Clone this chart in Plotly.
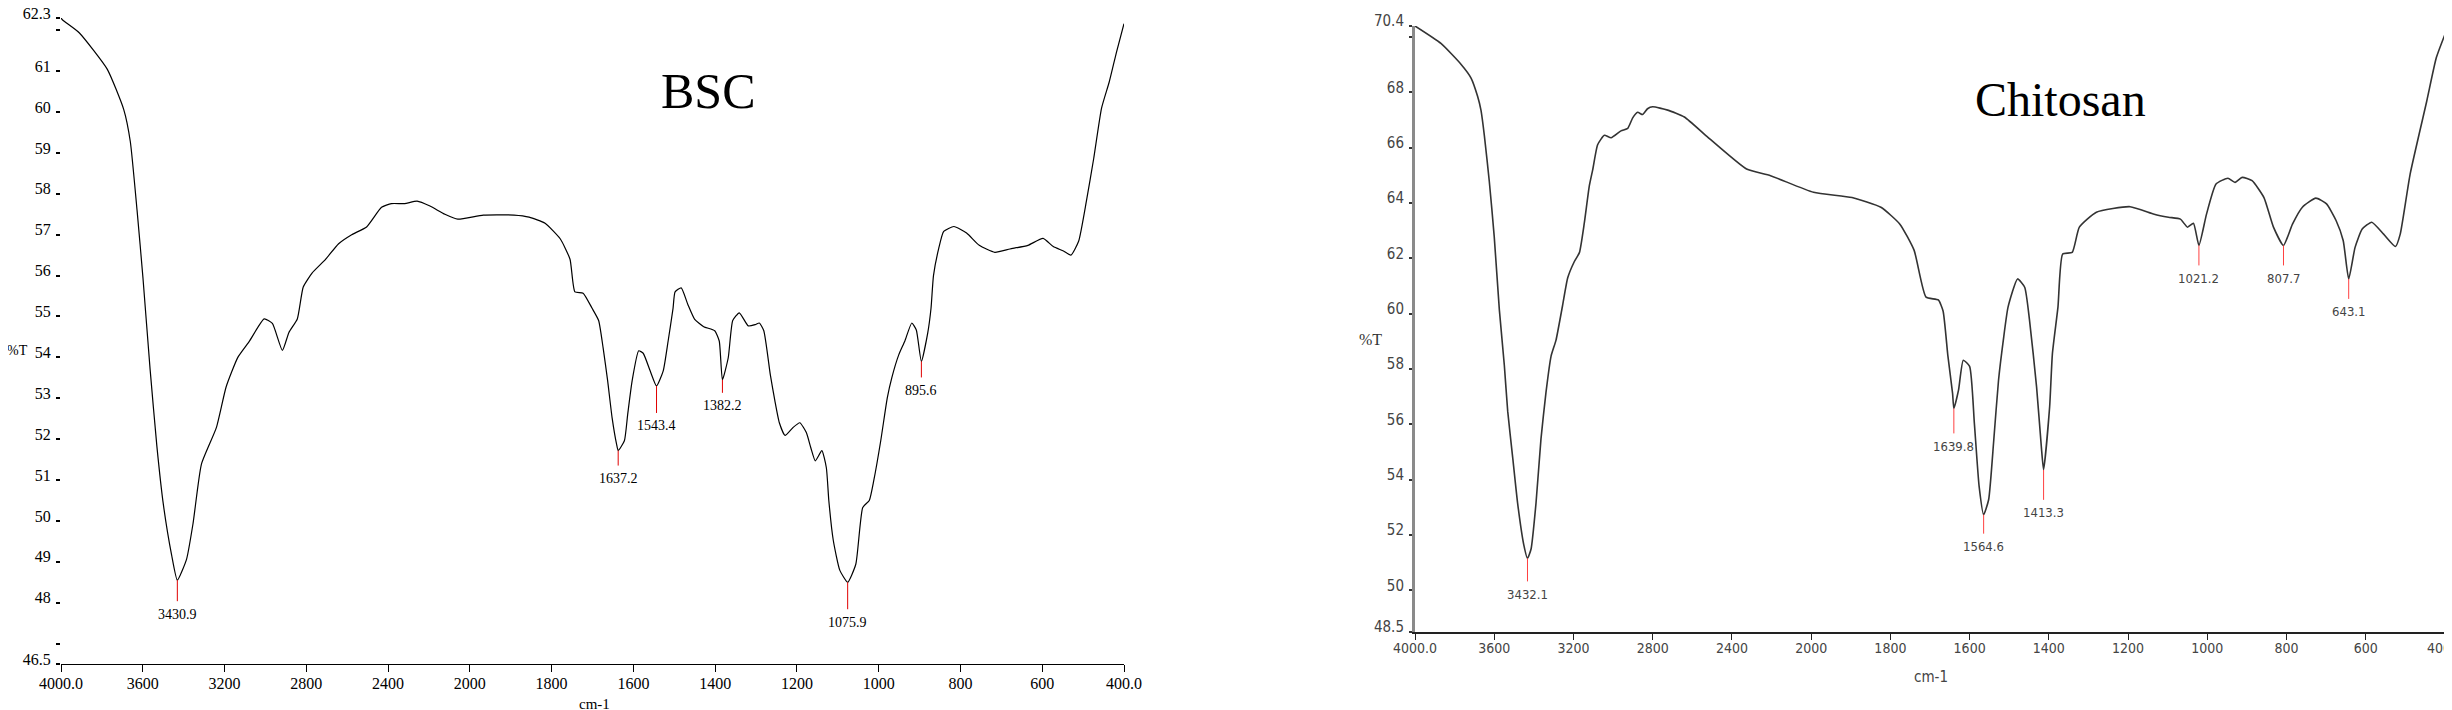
import numpy as np
import plotly.graph_objects as go

# ---------------- data ----------------
bsc_wn = [4000, 3992, 3911, 3774, 3693, 3661, 3628, 3599, 3564, 3531, 3499, 3459, 3430.9, 3386, 3354,
          3313, 3240, 3192, 3135, 3079, 3006, 2966, 2917, 2885, 2844, 2815, 2772, 2707, 2642, 2578,
          2505, 2432, 2384, 2319, 2258, 2195, 2122, 2059, 1967, 1892, 1855, 1816, 1779, 1755, 1743,
          1723, 1701, 1685, 1674, 1663, 1652, 1641, 1637.2, 1622, 1614, 1603, 1587, 1576, 1559, 1543.4,
          1527, 1515, 1503, 1498, 1483, 1467, 1450, 1428, 1401, 1390, 1382.2, 1368, 1357, 1341, 1319,
          1302, 1292, 1281, 1265, 1254, 1243, 1229, 1210, 1193, 1177, 1166, 1155, 1139, 1128, 1122,
          1111, 1095, 1075.9, 1056, 1039, 1023, 1012, 995, 979, 968, 951, 936, 919, 908, 895.6, 880,
          872, 866, 853, 841, 816, 785, 754, 716, 679, 635, 598, 573, 548, 530, 511, 492, 474, 455,
          436, 418, 400]
bsc_t = [62.3, 62.25, 61.94, 61.05, 60.06, 59.28, 57.6, 55.94, 53.7, 51.83, 50.39, 49.17, 48.55, 49.06, 49.94,
         51.39, 52.28, 53.28, 54.0, 54.39, 54.94, 54.83, 54.17, 54.61, 54.94, 55.72, 56.06, 56.39, 56.78, 57.0,
         57.19, 57.67, 57.76, 57.76, 57.82, 57.7, 57.5, 57.38, 57.48, 57.48, 57.43, 57.28, 56.9, 56.4, 55.6,
         55.57, 55.2, 54.9, 54.23, 53.43, 52.52, 51.87, 51.72, 51.96, 52.6, 53.43, 54.16, 54.1, 53.67, 53.3,
         53.67, 54.4, 55.2, 55.6, 55.7, 55.3, 54.93, 54.75, 54.65, 54.4, 53.45, 53.99, 54.9, 55.09, 54.77,
         54.8, 54.84, 54.65, 53.57, 52.94, 52.4, 52.09, 52.28, 52.4, 52.16, 51.79, 51.47, 51.72, 51.3, 50.5,
         49.52, 48.79, 48.5, 48.94, 50.33, 50.5, 50.99, 51.96, 53.01, 53.5, 54.06, 54.4, 54.84, 54.67, 53.9, 54.6,
         55.2, 56.0, 56.67, 57.08, 57.2, 57.04, 56.74, 56.57, 56.65, 56.74, 56.91, 56.71, 56.6, 56.5, 56.84, 57.82,
         58.87, 60.09, 60.74, 61.48, 62.16]
bsc_peaks = [3430.9, 1637.2, 1543.4, 1382.2, 1075.9, 895.6]
bsc_peak_t = [48.55, 51.72, 53.3, 53.45, 48.5, 53.9]

chi_wn = [4000, 3869, 3768, 3717, 3684, 3667, 3650, 3625, 3600, 3574, 3549, 3532, 3507, 3482, 3451, 3432.1,
          3414, 3389, 3364, 3339, 3313, 3288, 3255, 3229, 3196, 3170, 3145, 3120, 3103, 3078, 3044, 3010,
          2960, 2926, 2901, 2876, 2851, 2826, 2800, 2724, 2640, 2525, 2326, 2205, 1994, 1897, 1824, 1776,
          1740, 1710, 1679, 1667, 1655, 1643, 1639.8, 1628, 1616, 1600, 1588, 1576, 1564.6, 1552, 1539,
          1527, 1515, 1503, 1479, 1461, 1449, 1431, 1419, 1413.3, 1398, 1391, 1377, 1365, 1341, 1323, 1280,
          1195, 1134, 1098, 1068, 1050, 1035, 1021.2, 1002, 978, 948, 930, 912, 887, 857, 833, 807.7, 785,
          760, 726, 699, 675, 657, 643.1, 627, 609, 585, 555, 525, 513, 488, 446, 422, 400]
chi_t = [70.4, 69.77, 69.02, 68.52, 67.86, 67.36, 66.45, 64.79, 62.79, 60.13, 58.14, 56.48, 54.82, 53.16, 51.66, 51.16,
         51.5, 53.16, 55.48, 57.14, 58.47, 59.05, 60.3, 61.3, 61.88, 62.21, 63.29, 64.62, 65.2, 66.11, 66.45, 66.36,
         66.61, 66.7, 67.08, 67.28, 67.2, 67.41, 67.48, 67.36, 67.11, 66.4, 65.23, 64.99, 64.39, 64.2, 63.85, 63.24,
         62.29, 60.6, 60.5, 60.1, 58.5, 57.12, 56.58, 57.24, 58.32, 58.1, 56.04, 53.76, 52.74, 53.28, 55.44,
         57.6, 59.04, 60.24, 61.26, 60.96, 59.8, 57.36, 55.2, 54.36, 56.64, 58.56, 60.24, 62.16, 62.22, 63.13, 63.67,
         63.87, 63.6, 63.49, 63.42, 63.13, 63.27, 62.47, 63.6, 64.69, 64.9, 64.75, 64.93, 64.81, 64.2, 63.13, 62.47, 63.24,
         63.85, 64.18, 63.97, 63.37, 62.65, 61.26, 62.4, 63.06, 63.31, 62.88, 62.43, 62.88, 65.05, 67.69, 69.25, 70.1]
chi_peaks = [3432.1, 1639.8, 1564.6, 1413.3, 1021.2, 807.7, 643.1]
chi_peak_t = [51.16, 56.58, 52.74, 54.36, 62.47, 62.47, 61.26]

x_ticks = [4000, 3600, 3200, 2800, 2400, 2000, 1800, 1600, 1400, 1200, 1000, 800, 600, 400]
x_ticktext = ["4000.0", "3600", "3200", "2800", "2400", "2000", "1800", "1600", "1400",
              "1200", "1000", "800", "600", "400.0"]

# ---------------- layout helpers ----------------
W, H = 2452, 710
SERIF = "Liberation Serif, Times New Roman, serif"
NARROW = "Liberation Sans Narrow, Arial Narrow, DejaVu Sans Condensed, Liberation Sans, sans-serif"

# label offsets (px below the peak) for the red peak markers
bsc_label_off = [34, 28, 40, 26, 40, 29]
chi_label_off = [36, 38, 32, 43, 33, 33, 33]


def wn_pos(wn):
    # instrument abscissa: 400 cm-1 per division above 2000, 200 cm-1 per division below
    wn = np.asarray(wn, dtype=float)
    return np.where(wn >= 2000, (4000 - wn) / 400, 5 + (2000 - wn) / 200)


def px(x):
    return x / W


def py(y):
    return 1 - y / H


def label(x, y, text, family, size, color="black"):
    return dict(x=px(x), y=py(y), xref="paper", yref="paper", text=text, showarrow=False,
                xanchor="center", yanchor="middle", font=dict(family=family, size=size, color=color))


fig = go.Figure()

fig.add_trace(go.Scatter(x=wn_pos(bsc_wn), y=bsc_t, mode="lines", xaxis="x", yaxis="y",
                         line=dict(color="black", width=1.2, shape="spline", smoothing=0.5),
                         hoverinfo="skip"))
fig.add_trace(go.Scatter(x=wn_pos(chi_wn), y=chi_t, mode="lines", xaxis="x2", yaxis="y2",
                         line=dict(color="#333333", width=1.6, shape="spline", smoothing=0.5),
                         hoverinfo="skip"))

annotations = []
for wn, t, off in zip(bsc_peaks, bsc_peak_t, bsc_label_off):
    annotations.append(dict(
        x=float(wn_pos(wn)), y=t, xref="x", yref="y", text=f"{wn:.1f}",
        showarrow=True, arrowhead=0, arrowwidth=1, arrowcolor="#e00000",
        ax=0, ay=off, startstandoff=4, font=dict(family=SERIF, size=14, color="black")))
for wn, t, off in zip(chi_peaks, chi_peak_t, chi_label_off):
    annotations.append(dict(
        x=float(wn_pos(wn)), y=t, xref="x2", yref="y2", text=f"{wn:.1f}",
        showarrow=True, arrowhead=0, arrowwidth=1, arrowcolor="#ff4040",
        ax=0, ay=off, startstandoff=4, font=dict(family=NARROW, size=13, color="#444444")))

# panel titles, axis captions
annotations += [
    label(700, 83, "BSC", SERIF, 50),
    label(2052, 91, "Chitosan", SERIF, 48),
    label(9, 342, "%T", SERIF, 14),
    label(1362, 331, "%T", SERIF, 16, "#333333"),
    label(586, 696, "cm-1", SERIF, 15),
    label(1923, 669, "cm-1", NARROW, 15, "#444444"),
]

xcommon = dict(range=[0, 13], tickmode="array", tickvals=list(wn_pos(x_ticks)), ticktext=x_ticktext,
               showgrid=False, zeroline=False, showline=True, ticks="outside", automargin=False,
               ticklabeloverflow="allow")

bsc_yvals = [46.5] + list(range(47, 63)) + [62.3]
bsc_ytext = ["46.5", ""] + [str(v) for v in range(48, 62)] + ["", "62.3"]
chi_yvals = [48.5] + list(range(50, 71, 2)) + [70.4]
chi_ytext = ["48.5"] + [str(v) for v in range(50, 70, 2)] + ["", "70.4"]

fig.update_layout(
    width=W, height=H, template="none", showlegend=False,
    paper_bgcolor="white", plot_bgcolor="white",
    margin=dict(l=0, r=0, t=0, b=0),
    xaxis=dict(**xcommon, domain=[px(53), px(1116)], anchor="y",
               linecolor="black", linewidth=1, tickcolor="black", ticklen=7, tickwidth=1,
               ticklabelstandoff=-2, tickfont=dict(family=SERIF, size=16, color="black")),
    yaxis=dict(domain=[py(656), py(10)], range=[46.5, 62.3], anchor="x",
               tickmode="array", tickvals=bsc_yvals, ticktext=bsc_ytext,
               showgrid=False, zeroline=False, showline=False, automargin=False,
               ticks="outside", ticklen=4, tickwidth=1.5, tickcolor="black",
               ticklabelshift=-5, ticklabelstandoff=2, ticklabeloverflow="allow",
               tickfont=dict(family=SERIF, size=16, color="black")),
    xaxis2=dict(**xcommon, domain=[px(1407), px(2437)], anchor="y2",
                linecolor="#222222", linewidth=2, tickcolor="#222222", ticklen=6, tickwidth=1,
                ticklabelstandoff=-4, tickfont=dict(family=NARROW, size=14, color="#444444")),
    yaxis2=dict(domain=[py(624), py(18)], range=[48.5, 70.4], anchor="x2",
                tickmode="array", tickvals=chi_yvals, ticktext=chi_ytext,
                showgrid=False, zeroline=False, showline=True, linecolor="#8a8a8a", linewidth=3,
                automargin=False, ticks="outside", ticklen=3, tickwidth=1.5, tickcolor="#333333",
                ticklabelshift=-5, ticklabelstandoff=2, ticklabeloverflow="allow",
                tickfont=dict(family=NARROW, size=15, color="#444444")),
    annotations=annotations,
)

fig.write_html("out.html")
